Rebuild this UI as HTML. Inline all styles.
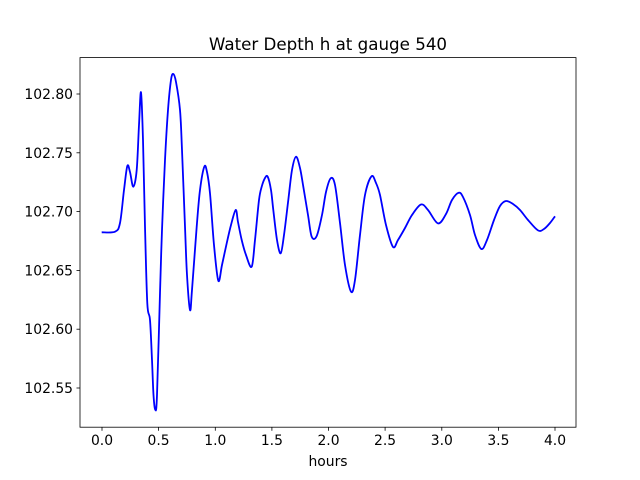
<!DOCTYPE html><html><head><style>body{margin:0;background:#fff}svg{display:block}text{font-family:"DejaVu Sans","Liberation Sans",sans-serif;font-size:13.9px;fill:#000}</style></head><body>
<svg width="640" height="480" viewBox="0 0 640 480">
<rect width="640" height="480" fill="#fff"/>
<rect x="80" y="57.6" width="496" height="369.6" fill="none" stroke="#000" stroke-width="0.8"/>
<g stroke="#000" stroke-width="0.8">
<line x1="102" y1="427.2" x2="102" y2="430.7"/><line x1="158.6" y1="427.2" x2="158.6" y2="430.7"/><line x1="215.3" y1="427.2" x2="215.3" y2="430.7"/><line x1="271.9" y1="427.2" x2="271.9" y2="430.7"/><line x1="328.5" y1="427.2" x2="328.5" y2="430.7"/><line x1="385.1" y1="427.2" x2="385.1" y2="430.7"/><line x1="441.8" y1="427.2" x2="441.8" y2="430.7"/><line x1="498.4" y1="427.2" x2="498.4" y2="430.7"/><line x1="555" y1="427.2" x2="555" y2="430.7"/>
<line x1="76.5" y1="388" x2="80" y2="388"/><line x1="76.5" y1="329.2" x2="80" y2="329.2"/><line x1="76.5" y1="270.4" x2="80" y2="270.4"/><line x1="76.5" y1="211.6" x2="80" y2="211.6"/><line x1="76.5" y1="152.8" x2="80" y2="152.8"/><line x1="76.5" y1="94" x2="80" y2="94"/>
</g>
<g text-anchor="middle">
<text x="102" y="445">0.0</text><text x="158.6" y="445">0.5</text><text x="215.3" y="445">1.0</text><text x="271.9" y="445">1.5</text><text x="328.5" y="445">2.0</text><text x="385.1" y="445">2.5</text><text x="441.8" y="445">3.0</text><text x="498.4" y="445">3.5</text><text x="555" y="445">4.0</text>
<text x="328" y="466">hours</text>
<text x="328" y="50" style="font-size:16.7px">Water Depth h at gauge 540</text>
</g>
<g text-anchor="end">
<text x="73" y="393">102.55</text><text x="73" y="334.2">102.60</text><text x="73" y="275.4">102.65</text><text x="73" y="216.6">102.70</text><text x="73" y="157.8">102.75</text><text x="73" y="99">102.80</text>
</g>
<path id="c" fill="none" stroke="#0000ff" stroke-width="1.8" stroke-linejoin="round" d=""/>
</svg>
<script>
var s="101.7,232.3 115,231.7 120,223 124,190 127.3,166 130,172 133.3,186.7 136.7,170 139,125 141,92.3 143,140 145,226.7 147.3,303.3 150,320 152,360 153.5,395 155.3,410 157,395 160,293 162,230 165,160 168,110 171,80 173.3,74 176,82 180,110 182,150 185,226.7 187,275 190,310 192,290 196.7,226.7 200,190 204.3,166.7 207,172 210,193.3 214,245 218.3,280.7 222,265 226.7,243.3 231,225 235.7,210 238,222 241.7,240 246,255 251.7,266.7 255,240 259,200 261.7,186.7 265,178 267.7,176.7 271,190 273.3,210 277,240 280.7,253.3 284,235 288.3,200 292,170 296,156.7 300,168 303.3,186.7 308,215 311.7,236.7 316.7,236 322,215 326,192 330.7,178.3 335,185 340,223 345,265 351,291.6 355,280 360,235 365,195 371.5,176.3 376,183 380,195 386,225 393,246.9 398,240 405,228 412,215 421,204.5 428,210 438,223.4 446,214 452,200 458.7,192.8 463,197 470,215 475,235 481.4,249 487,240 494,220 500,206 506,201 513,204 520,210 528,220 538,230.4 544,229 550,223 555,216.3";
var p=s.split(" ").map(function(t){return t.split(",").map(Number);});
var d="M"+p[0][0]+","+p[0][1];
for(var i=0;i<p.length-1;i++){var a=p[i-1]||p[i],b=p[i],c=p[i+1],e=p[i+2]||c;
d+=" C"+(b[0]+(c[0]-a[0])/6).toFixed(2)+","+(b[1]+(c[1]-a[1])/6).toFixed(2)+" "+(c[0]-(e[0]-b[0])/6).toFixed(2)+","+(c[1]-(e[1]-b[1])/6).toFixed(2)+" "+c[0]+","+c[1];}
document.getElementById("c").setAttribute("d",d);
</script>
</body></html>
